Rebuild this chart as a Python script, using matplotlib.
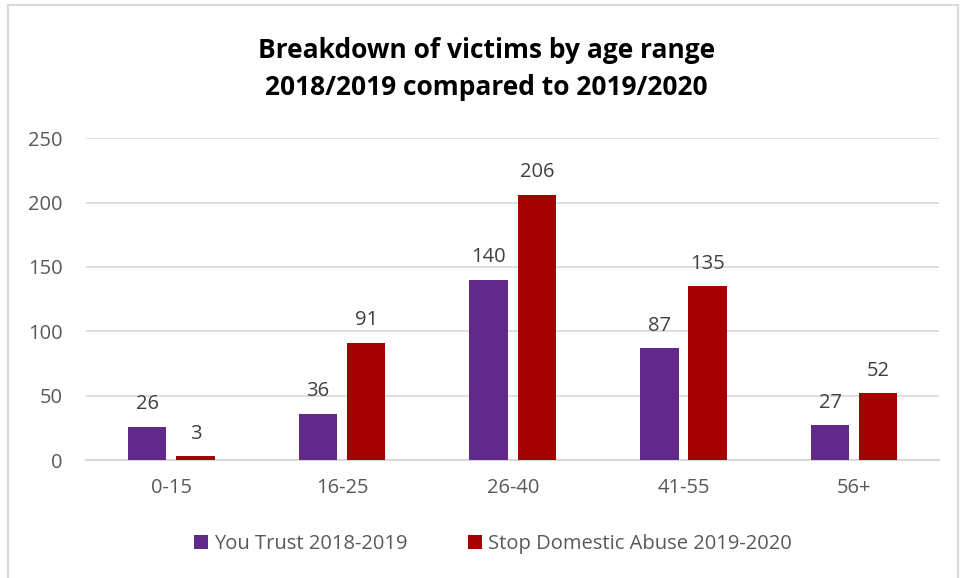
import matplotlib
matplotlib.use("Agg")
import matplotlib.pyplot as plt
import numpy as np

categories = ["0-15", "16-25", "26-40", "41-55", "56+"]
you_trust = [26, 36, 140, 87, 27]
stop_abuse = [3, 91, 206, 135, 52]
series_names = ["You Trust 2018-2019", "Stop Domestic Abuse 2019-2020"]
title = "Breakdown of victims by age range\n2018/2019 compared to 2019/2020"

PURPLE = "#612a8a"
RED = "#a50000"
GREY_TXT = "#595959"
GRID = "#d9d9d9"

plt.rcParams['font.family'] = ['Open Sans', 'DejaVu Sans']

fig = plt.figure(figsize=(9.6, 5.78), dpi=100)
ax = fig.add_axes([0.0896, 0.204, 0.889, 0.557])

x = np.arange(len(categories))
w = 0.225
off = 0.141
b1 = ax.bar(x - off, you_trust, w, color=PURPLE, label=series_names[0], zorder=3)
b2 = ax.bar(x + off, stop_abuse, w, color=RED, label=series_names[1], zorder=3)

for bars in (b1, b2):
    for r in bars:
        ax.annotate(str(int(r.get_height())), (r.get_x() + r.get_width() / 2, r.get_height()),
                    xytext=(0, 9), textcoords="offset points", ha="center", va="bottom",
                    fontsize=14.5, color="#404040")

ax.set_xlim(-0.5, len(categories) - 0.5)
ax.set_ylim(0, 250)
ax.set_yticks(range(0, 251, 50))
ax.set_xticks(x)
ax.set_xticklabels(categories)
ax.tick_params(axis="both", length=0, labelsize=14.5, colors=GREY_TXT)
ax.tick_params(axis="x", pad=13)
ax.tick_params(axis="y", pad=17)
ax.grid(axis="y", color=GRID, linewidth=1.2, zorder=0)
for s in ["top", "right", "left"]:
    ax.spines[s].set_visible(False)
ax.spines["bottom"].set_color(GRID)
ax.spines["bottom"].set_linewidth(1.5)

fig.text(0.507, 0.881, title, ha="center", va="center", fontsize=19, fontweight="bold",
         linespacing=1.45, color="black")

leg = fig.legend(loc="center", bbox_to_anchor=(0.513, 0.058), ncol=2, frameon=False,
                 fontsize=14.5, handlelength=0.7, handleheight=0.7, handletextpad=0.3,
                 columnspacing=3.0)
for t in leg.get_texts():
    t.set_color(GREY_TXT)

# outer chart border
fig.patches.append(plt.Rectangle((8 / 960, -0.01), 950 / 960, 1 - 5 / 578 + 0.01,
                                 transform=fig.transFigure, fill=False,
                                 edgecolor=GRID, linewidth=1.5))

fig.savefig("out.png", dpi=100)
